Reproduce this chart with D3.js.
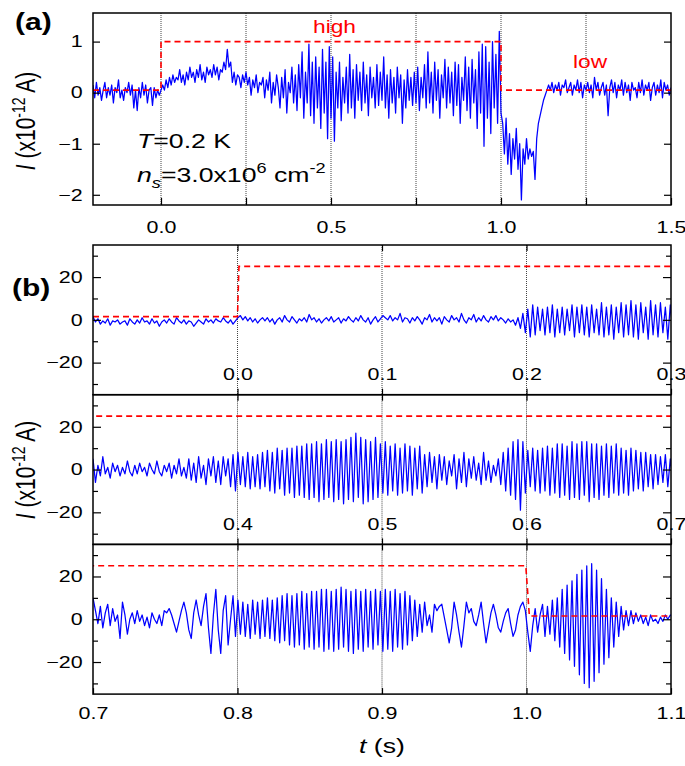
<!DOCTYPE html>
<html><head><meta charset="utf-8">
<script src="https://cdn.jsdelivr.net/npm/d3@7"></script>
<style>body{margin:0;background:#fff}svg{display:block}</style>
</head><body><svg id="c" width="685" height="766"></svg>
<script>
// ---------- DATA ----------
// Panel (a): current trace, sampled from t = -0.2 s every 0.005 s
const aStart = -0.2, aStep = 0.005;
const aValues = [
0.15,-0.1,0.2,-0.05,0.1,-0.15,0.05,0.2,-0.1,0.1,
-0.05,0.15,-0.2,0.1,0.0,0.25,-0.1,0.05,-0.15,0.1,
0.0,0.2,-0.05,0.15,-0.3,0.05,-0.35,0.1,-0.1,0.2,
-0.05,0.15,-0.2,0.05,0.1,-0.25,0.1,-0.1,0.05,-0.05,
0.05,0.15,0.05,0.25,0.1,0.3,0.15,0.35,0.2,0.3,
0.25,0.45,0.2,0.35,0.15,0.4,0.25,0.5,0.3,0.4,
0.2,0.45,0.3,0.55,0.25,0.4,0.2,0.5,0.35,0.45,
0.3,0.55,0.35,0.5,0.25,0.45,0.4,0.6,0.45,0.85,
0.5,0.6,0.2,0.4,0.15,0.35,0.3,0.1,0.35,0.2,
0.4,0.15,0.3,-0.05,0.25,0.1,0.35,0.0,0.2,0.15,
0.3,-0.1,0.25,0.05,0.4,-0.2,0.2,-0.05,0.35,0.1,
-0.3,0.3,-0.1,0.45,-0.4,0.2,0.0,0.5,-0.2,0.35,
-0.35,0.55,-0.1,0.8,-0.5,0.4,-0.2,0.95,-0.45,0.6,
-0.6,0.7,-0.3,0.5,-0.7,0.85,-0.4,0.6,-0.9,0.9,
-0.5,0.7,-0.95,0.4,-0.3,0.6,-0.55,0.3,-0.2,0.5,
-0.4,0.75,-0.3,0.45,-0.5,0.55,-0.15,0.4,-0.35,0.6,
-0.2,0.35,-0.45,0.5,-0.1,0.3,-0.3,0.55,-0.25,0.4,
-0.15,0.7,-0.3,0.35,-0.5,0.45,-0.2,0.3,-0.4,0.5,
-0.1,0.35,-0.6,0.25,-0.3,0.45,-0.15,0.3,-0.25,0.4,
-0.2,0.5,-0.35,0.3,-0.1,0.55,-0.3,0.8,-0.2,0.4,
-0.4,0.6,-0.15,0.45,-0.5,0.35,-0.1,0.65,-0.3,0.5,
-0.2,0.4,-0.45,0.6,-0.25,0.55,-0.6,0.3,-0.15,0.7,
-0.35,0.5,-0.5,0.65,-0.2,0.45,-0.7,0.8,-0.4,0.95,
-1.05,0.9,-0.5,0.6,-0.8,1.0,-0.3,0.75,-0.6,1.2,
-0.4,-0.6,-1.2,-0.5,-1.4,-0.8,-1.6,-0.9,-1.3,-0.7,
-1.5,-1.0,-2.1,-1.1,-1.4,-0.9,-1.3,-1.1,-1.25,-1.15,
-1.7,-0.9,-0.6,-0.45,-0.3,-0.15,-0.05,0.05,0.15,0.05,
0.2,0.0,0.15,0.05,0.2,-0.05,0.15,0.1,0.25,0.0,
0.1,0.2,-0.05,0.15,0.05,0.25,0.0,0.2,-0.1,0.15,
0.05,0.2,0.0,0.15,-0.1,0.3,0.05,0.2,-0.05,0.1,
0.2,-0.05,0.15,-0.45,0.1,0.25,0.0,0.2,-0.1,0.15,
0.05,0.25,-0.05,0.2,0.0,0.15,-0.15,0.2,0.05,0.1,
-0.1,0.2,0.0,0.25,-0.05,0.15,0.05,0.2,-0.15,0.1,
0.2,-0.05,0.15,0.0,0.25,-0.1,0.2,0.05,0.15,-0.05,
0.1];
// Panel (a): gate step (dashed red)
const aStepTimes  = [-0.2, 0.0, 0.0, 1.0, 1.0, 1.5];
const aStepValues = [0.05, 0.05, 1.0, 1.0, 0.05, 0.05];
const aXTicks = [0, 0.25, 0.5, 0.75, 1.0, 1.25, 1.5];
const aXLabels = [0, 0.5, 1.0, 1.5];
const aYTicks = [-2, -1, 0, 1];

// Panel (b): three 0.4 s windows, sampled every 0.0017 s from each window start
const bStep = 0.0017;
const bStarts = [-0.1, 0.3, 0.7];
const b1Values = [
1.5,-1,0.5,-2,-0.5,-1.5,0.5,-2.5,-0.5,-1,
0,-2,-1,-0.5,-2.5,0.5,-1,-2,0,-1.5,
1,-1,-0.5,-2,0.5,-1.5,-0.5,-3,-1,0,
-1.5,0.5,-1,-2,1,-0.5,-1.5,0,-2,-0.5,
-1,-3,-1.5,0,-1,-2,0.5,-1,0,-1.5,
0.5,-0.5,-1,1,-0.5,-1.5,0,-2,-0.5,1,
2,0,1.5,-0.5,1,-1,0.5,-1.5,0,1,
-0.5,1,-1,0.5,-2,0,1,-1,2,0,
-1,1.5,0,-1.5,0.5,-0.5,1,-1,2.5,0,
1,-1,0.5,-1.5,0,1,-0.5,1.5,-1,0,
1,-1.5,0.5,-0.5,1.5,0,-1,1,-0.5,2,
0,-1,1,-2,0,1.5,-1,0.5,2,1,
0,2,-0.5,1,0,3,-1,1,0.5,-1.5,
1,-0.5,1.5,0,-2,1,0,2.5,-1,1,
-0.5,1,-2,1.5,0,-1,2,0,1,-1,
3,0,-1.5,1,0,2.5,-1,1,-0.5,2,
0,-1,1.5,0,2,-0.5,1,0,-1.5,0.5,
-1,0,-2.5,1,-4,3,-6,5,-8,7,
-7,6,-5,5,-7,6,-6,7,-8,5,
-6,6,-7,5,-5,7,-8,6,-6,7,
-7,6,-8,7,-6,5,-7,8,-8,6,
-7,7,-9,6,-6,8,-8,7,-7,9,
-8,7,-9,8,-6,6,-9,9,-7,7,
-8,8,-6,6,-9,7,-5];
const b2Values = [
5,-6,2,-3,6,-2,1,-4,3,-1,
2,-3,1,-2,4,-1,-3,2,-2,3,
-1,1,-3,3,0,-2,4,-1,-3,2,
-1,3,-4,2,-2,5,-3,1,-4,5,
-5,3,-6,6,-4,2,-7,5,-3,6,
-6,4,-7,6,-3,5,-8,7,-10,8,
-7,6,-8,8,-9,6,-8,7,-9,8,
-8,9,-10,8,-11,10,-9,9,-12,10,
-11,10,-13,11,-12,11,-13,12,-14,12,
-13,13,-15,12,-14,14,-13,13,-15,14,
-14,13,-16,14,-14,15,-15,17,-13,15,
-16,14,-15,13,-14,15,-13,12,-11,13,
-12,11,-10,12,-12,10,-11,12,-10,11,
-12,10,-9,11,-11,7,-8,8,-6,6,
-9,7,-5,6,-7,4,-3,7,-9,5,
-6,8,-8,5,-4,6,-5,3,-7,8,
-5,4,-6,2,-3,5,-7,8,-10,10,
-12,13,-14,14,-19,13,-11,9,-8,10,
-10,9,-11,10,-10,11,-12,10,-11,12,
-13,12,-12,11,-14,13,-13,12,-14,13,
-12,13,-15,12,-13,12,-14,11,-12,12,
-13,11,-11,12,-12,10,-11,9,-12,10,
-10,9,-9,8,-10,8,-8,7,-9,7,
-7,6,-6,7,-8,5,-5];
const b3Values = [
10,4,-2,6,-4,3,7,-3,5,-1,
2,-9,8,2,-7,0,3,-2,4,-1,
2,-3,1,-4,3,0,-2,2,-3,4,
3,5,2,-2,-6,-1,4,8,3,-5,
-9,3,9,2,-3,6,12,-4,-16,2,
14,-5,-16,4,11,-12,0,11,-8,9,
-7,8,-8,7,-9,9,-7,8,-9,9,
-8,10,-9,9,-10,10,-11,11,-10,12,
-12,11,-13,12,-12,13,-14,12,-13,13,
-14,13,-13,14,-15,14,-14,13,-15,14,
-14,15,-13,14,-15,13,-16,14,-14,13,
-15,14,-13,13,-14,14,-12,13,-15,14,
-14,13,-15,14,-13,12,-14,13,-12,11,
-10,9,-8,7,-6,8,-3,2,-6,7,
4,6,7,1,-5,-11,-4,8,2,-6,
-13,-3,8,3,5,-1,-3,2,8,-2,
-11,-4,3,7,2,-4,-6,-1,3,5,
-2,-8,-5,2,6,8,4,-6,-15,-3,
5,-6,2,7,-8,6,-7,9,-10,10,
-13,14,-16,16,-19,18,-22,21,-26,23,
-30,25,-32,26,-29,23,-25,19,-21,14,
-18,10,-13,8,-8,6,-5,4,-3,4,
-2,3,-1,2,-2,1,-3,2,-1,0,
-2,1,-1,2,0,2,1];
const bValues = [b1Values, b2Values, b3Values];
// Panel (b): gate step (dashed red)
const bStepTimes  = [-0.1, 0.0, 0.001, 0.9995, 1.002, 1.1];
const bStepValues = [1.5, 1.5, 25, 25, 1.5, 1.5];
const bXTicks = [[0, 0.1, 0.2, 0.3], [0.4, 0.5, 0.6, 0.7], [0.7, 0.8, 0.9, 1.0, 1.1]];
const bGrid = [[0, 0.1, 0.2], [0.4, 0.5, 0.6], [0.8, 0.9, 1.0]];
const bYMajor = [-20, 0, 20];
const bYMinor = [-30, -10, 10, 30];

// ---------- DRAWING ----------
const FONT = '"Liberation Sans", Arial, Helvetica, sans-serif';
const SX = 1.3;
const BLUE = "#0000ff", RED = "#ff0000";
const svg = d3.select("#c").attr("font-family", FONT);
const defs = svg.append("defs");

function label(x, y, parts, o) {
  const tr = o.rotate
    ? `translate(${x},${y}) rotate(-90) scale(1,${o.sx ?? SX})`
    : `translate(${x},${y}) scale(${o.sx ?? SX},1)`;
  const t = svg.append("text").attr("transform", tr)
    .attr("font-size", o.size).attr("text-anchor", o.anchor || "start")
    .attr("font-weight", o.weight || "normal").attr("fill", o.fill || "#000")
    .style("white-space", "pre");
  parts.forEach(p => {
    const s = typeof p === "string" ? { t: p } : p;
    const ts = t.append("tspan").text(s.t);
    if (s.i) ts.attr("font-style", "italic");
    if (s.dy) ts.attr("dy", s.dy);
    if (s.fs) ts.attr("font-size", s.fs);
  });
  return t;
}

function styleAxis(g, size) {
  g.attr("font-family", FONT).attr("font-size", size);
  g.select(".domain").remove();
  g.selectAll(".tick line").attr("stroke", "#000").attr("stroke-width", 1.2);
  g.selectAll(".tick text").attr("fill", "#000").attr("transform", `scale(${SX},1)`);
}

// ----- Panel (a) -----
const A = { l: 93, r: 671, t: 13, b: 205 };
const xa = d3.scaleLinear([-0.2, 1.5], [A.l, A.r]);
const ya = d3.scaleLinear([-2.2, 1.56], [A.b, A.t]);
defs.append("clipPath").attr("id", "clipA").append("rect")
  .attr("x", A.l).attr("y", A.t).attr("width", A.r - A.l).attr("height", A.b - A.t);

svg.append("g").selectAll("line").data(aXTicks.filter(v => v > -0.2 && v < 1.5)).join("line")
  .attr("x1", d => xa(d)).attr("x2", d => xa(d)).attr("y1", A.t).attr("y2", A.b)
  .attr("stroke", "#444").attr("stroke-width", 1).attr("stroke-dasharray", "1,1");

svg.append("path").datum(aValues).attr("clip-path", "url(#clipA)")
  .attr("fill", "none").attr("stroke", BLUE).attr("stroke-width", 1.25).attr("stroke-linejoin", "round")
  .attr("d", d3.line().x((d, i) => xa(aStart + i * aStep)).y(d => ya(d)));

svg.append("path").datum(aStepTimes.map((t, i) => [t, aStepValues[i]]))
  .attr("fill", "none").attr("stroke", RED).attr("stroke-width", 1.6).attr("stroke-dasharray", "6,4")
  .attr("d", d3.line().x(d => xa(d[0])).y(d => ya(d[1])));

svg.append("g").attr("transform", `translate(0,${A.b})`)
  .call(d3.axisBottom(xa).tickValues(aXTicks).tickSizeInner(-7).tickSizeOuter(0).tickPadding(16)
    .tickFormat(v => aXLabels.some(l => Math.abs(l - v) < 1e-9) ? d3.format(".1f")(v) : ""))
  .call(g => styleAxis(g, 16.5));
svg.append("g").attr("transform", `translate(${A.l},0)`)
  .call(d3.axisLeft(ya).tickValues(aYTicks).tickSizeInner(-7).tickSizeOuter(0).tickPadding(8)
    .tickFormat(d3.format("d")))
  .call(g => styleAxis(g, 16.5));
svg.append("g").attr("transform", `translate(${A.r},0)`)
  .call(d3.axisRight(ya).tickValues(aYTicks).tickSizeInner(-7).tickSizeOuter(0).tickFormat(""))
  .call(g => styleAxis(g, 16.5));
svg.append("rect").attr("x", A.l).attr("y", A.t).attr("width", A.r - A.l).attr("height", A.b - A.t)
  .attr("fill", "none").attr("stroke", "#000").attr("stroke-width", 1.5);

label(15, 30, ["(a)"], { size: 24, weight: "bold", sx: 1.25 });
label(313, 33, ["high"], { size: 17.5, fill: RED });
label(573, 68, ["low"], { size: 17.5, fill: RED });
label(137, 148, [{ t: "T", i: true }, "=0.2 K"], { size: 20.5 });
label(137, 182, [{ t: "n", i: true }, { t: "s", i: true, dy: 6, fs: 14 }, { t: "=3.0x10", dy: -6 },
  { t: "6", dy: -9, fs: 14 }, { t: " cm", dy: 9 }, { t: "-2", dy: -9, fs: 14 }], { size: 20.5 });
label(35, 121, [{ t: "I", i: true }, " (x10", { t: "-12", dy: -8, fs: 14 }, { t: " A)", dy: 8 }],
  { size: 21, anchor: "middle", rotate: true });

// ----- Panel (b) -----
const B = { l: 93, r: 671, t: 245, h: 149.7 };
bStarts.forEach((s0, k) => {
  const top = B.t + k * B.h, bot = top + B.h;
  const xb = d3.scaleLinear([s0, s0 + 0.4], [B.l, B.r]);
  const yb = d3.scaleLinear([-35, 35], [bot, top]);
  const cid = "clipB" + k;
  defs.append("clipPath").attr("id", cid).append("rect")
    .attr("x", B.l).attr("y", top).attr("width", B.r - B.l).attr("height", B.h);

  svg.append("g").selectAll("line").data(bGrid[k]).join("line")
    .attr("x1", d => xb(d)).attr("x2", d => xb(d)).attr("y1", top).attr("y2", bot)
    .attr("stroke", "#444").attr("stroke-width", 1).attr("stroke-dasharray", "1,1");

  svg.append("path").datum(bValues[k]).attr("clip-path", `url(#${cid})`)
    .attr("fill", "none").attr("stroke", BLUE).attr("stroke-width", 1.25).attr("stroke-linejoin", "round")
    .attr("d", d3.line().x((d, i) => xb(s0 + i * bStep)).y(d => yb(d)));

  svg.append("path").datum(bStepTimes.map((t, i) => [t, bStepValues[i]])).attr("clip-path", `url(#${cid})`)
    .attr("fill", "none").attr("stroke", RED).attr("stroke-width", 1.6).attr("stroke-dasharray", "6,4")
    .attr("d", d3.line().x(d => xb(d[0])).y(d => yb(d[1])));

  const last = k === 2;
  svg.append("g").attr("transform", `translate(0,${bot})`)
    .call(d3.axisBottom(xb).tickValues(bXTicks[k]).tickSizeInner(-6).tickSizeOuter(0)
      .tickPadding(last ? 13 : -26).tickFormat(d3.format(".1f")))
    .call(g => styleAxis(g, 16.5));
  svg.append("g").attr("transform", `translate(0,${top})`)
    .call(d3.axisTop(xb).tickValues(bGrid[k]).tickSizeInner(-6).tickSizeOuter(0).tickFormat(""))
    .call(g => styleAxis(g, 16.5));
  svg.append("g").attr("transform", `translate(${B.l},0)`)
    .call(d3.axisLeft(yb).tickValues(bYMajor).tickSizeInner(-8).tickSizeOuter(0).tickPadding(8)
      .tickFormat(d3.format("d")))
    .call(g => styleAxis(g, 16.5));
  svg.append("g").attr("transform", `translate(${B.l},0)`)
    .call(d3.axisLeft(yb).tickValues(bYMinor).tickSizeInner(-5).tickSizeOuter(0).tickFormat(""))
    .call(g => styleAxis(g, 16.5));
  svg.append("g").attr("transform", `translate(${B.r},0)`)
    .call(d3.axisRight(yb).tickValues(bYMajor).tickSizeInner(-8).tickSizeOuter(0).tickFormat(""))
    .call(g => styleAxis(g, 16.5));
  svg.append("g").attr("transform", `translate(${B.r},0)`)
    .call(d3.axisRight(yb).tickValues(bYMinor).tickSizeInner(-5).tickSizeOuter(0).tickFormat(""))
    .call(g => styleAxis(g, 16.5));
  svg.append("rect").attr("x", B.l).attr("y", top).attr("width", B.r - B.l).attr("height", B.h)
    .attr("fill", "none").attr("stroke", "#000").attr("stroke-width", 1.5);
});

label(12, 296, ["(b)"], { size: 24, weight: "bold", sx: 1.25 });
label(35, 470, [{ t: "I", i: true }, " (x10", { t: "-12", dy: -8, fs: 14 }, { t: " A)", dy: 8 }],
  { size: 21, anchor: "middle", rotate: true });
label(382, 753, [{ t: "t", i: true }, " (s)"], { size: 20.5, anchor: "middle" });
</script>
</body></html>
